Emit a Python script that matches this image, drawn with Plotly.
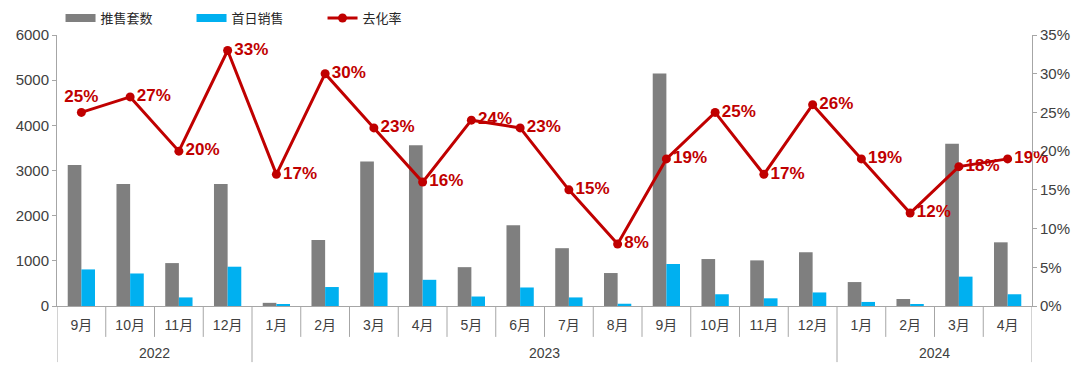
import plotly.graph_objects as go

months = ["9月", "10月", "11月", "12月", "1月", "2月", "3月", "4月", "5月", "6月",
          "7月", "8月", "9月", "10月", "11月", "12月", "1月", "2月", "3月", "4月"]
years = ["2022", "2023", "2024"]
year_counts = [4, 12, 4]
supply = [3120, 2700, 950, 2700, 70, 1460, 3200, 3560, 860, 1790,
          1280, 730, 5150, 1040, 1010, 1190, 530, 155, 3590, 1410]
first_day = [810, 720, 190, 870, 30, 420, 740, 580, 210, 410,
             190, 50, 930, 260, 170, 300, 90, 30, 650, 260]
rate = [0.25, 0.27, 0.20, 0.33, 0.17, 0.30, 0.23, 0.16, 0.24, 0.23,
        0.15, 0.08, 0.19, 0.25, 0.17, 0.26, 0.19, 0.12, 0.18, 0.19]

x = list(range(len(months)))
grey = "#7f7f7f"
blue = "#00b0f0"
red = "#c00000"
axis_col = "#a6a6a6"
txt_col = "#404040"

fig = go.Figure()
fig.add_trace(go.Bar(x=x, y=supply, name="推售套数", marker_color=grey,
                     marker_line_width=0, showlegend=False, legendgroup="a"))
fig.add_trace(go.Bar(x=x, y=first_day, name="首日销售", marker_color=blue,
                     marker_line_width=0, showlegend=False, legendgroup="b"))
# legend swatches drawn as wide flat bars, like the reference
fig.add_trace(go.Scatter(x=[None], y=[None], mode="lines", name="推售套数",
                         line=dict(color=grey, width=8), legendgroup="a"))
fig.add_trace(go.Scatter(x=[None], y=[None], mode="lines", name="首日销售",
                         line=dict(color=blue, width=8), legendgroup="b"))
positions = ["top center"] + ["middle right"] * (len(rate) - 1)
fig.add_trace(go.Scatter(
    x=x, y=rate, name="去化率", yaxis="y2", mode="lines+markers+text",
    line=dict(color=red, width=3), marker=dict(color=red, size=9),
    text=[f"{round(r*100)}%" for r in rate], textposition=positions,
    textfont=dict(color=red, size=17, family="Liberation Sans, Arial", weight="bold"),
    cliponaxis=False,
))

shapes = []
n = len(months)
year_bounds = [0]
for c in year_counts:
    year_bounds.append(year_bounds[-1] + c)
for i in range(n + 1):
    is_year = i in year_bounds
    shapes.append(dict(type="line", xref="x", yref="paper",
                       x0=i - 0.5, x1=i - 0.5, y0=0,
                       y1=-0.207 if is_year else -0.114,
                       line=dict(color=axis_col, width=1)))

annotations = []
for k, yv in enumerate(years):
    cx = (year_bounds[k] + year_bounds[k + 1] - 1) / 2
    annotations.append(dict(x=cx, y=-0.173, xref="x", yref="paper", text=yv,
                            showarrow=False, yanchor="middle",
                            font=dict(size=14, color=txt_col)))

fig.update_layout(
    width=1072, height=372,
    margin=dict(l=49, r=48, t=27, b=74, autoexpand=False),
    paper_bgcolor="white", plot_bgcolor="white",
    font=dict(family="Liberation Sans, Arial, Noto Sans CJK SC", color=txt_col),
    barmode="group", bargap=0.44, bargroupgap=0,
    showlegend=True,
    legend=dict(orientation="h", x=0.049, xref="container", y=0.973, yref="container",
                yanchor="middle", xanchor="left",
                font=dict(size=13, color="#262626"), entrywidth=86,
                bgcolor="rgba(0,0,0,0)"),
    xaxis=dict(range=[-0.5, n - 0.5], tickmode="array", tickvals=x, ticktext=months,
               showgrid=False, showline=True, linecolor=axis_col,
               ticks="outside", ticklen=6, tickcolor="rgba(0,0,0,0)",
               tickfont=dict(size=14, color=txt_col), zeroline=False),
    yaxis=dict(range=[0, 6000], dtick=1000, showgrid=False, showline=True,
               linecolor=axis_col, ticks="outside", ticklen=4, tickcolor=axis_col,
               tickfont=dict(size=15, color=txt_col), zeroline=False),
    yaxis2=dict(range=[0, 0.35], dtick=0.05, tickformat=".0%", overlaying="y",
                side="right", showgrid=False, showline=True, linecolor=axis_col,
                ticks="outside", ticklen=4, tickcolor=axis_col,
                tickfont=dict(size=15, color=txt_col), zeroline=False),
    shapes=shapes, annotations=annotations,
)

fig.write_html("out.html")
